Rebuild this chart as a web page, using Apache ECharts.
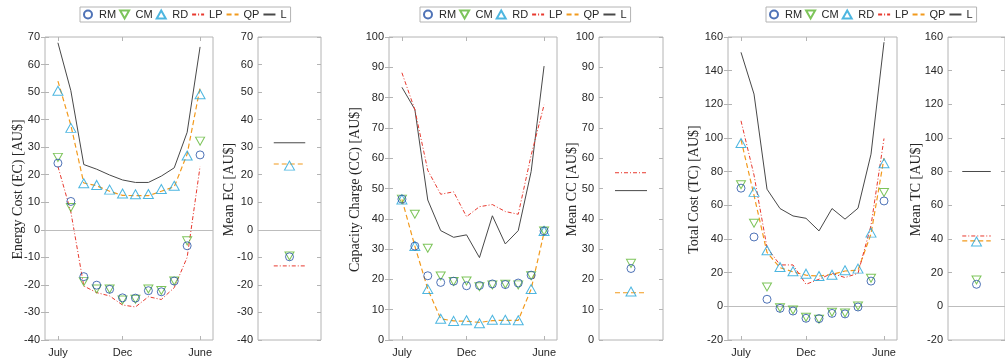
<!DOCTYPE html>
<html>
<head>
<meta charset="utf-8">
<script src="https://cdn.jsdelivr.net/npm/echarts@6/dist/echarts.min.js"></script>
<style>
  html, body { margin: 0; padding: 0; background: #fff; }
  #chart { width: 1005px; height: 360px; }
</style>
</head>
<body>
<div id="chart"></div>
<script>
// Months of the billing year, July to June (plotted at x = 1..12)
const months = ['July', 'Aug', 'Sep', 'Oct', 'Nov', 'Dec', 'Jan', 'Feb', 'Mar', 'Apr', 'May', 'June'];
const monthTicks = [1, 6, 12];

// Energy cost (EC) [AU$]
const ecRM = [24.2, 10.3, -17, -20.1, -21.6, -24.7, -24.8, -22.1, -22.5, -18.6, -5.8, 27.2];
const ecCM = [26.3, 8.1, -18.8, -21.5, -21.5, -25.5, -25.2, -21.5, -22, -18.6, -4, 32.2];
const ecRD = [50.5, 37, 16.9, 16.3, 14.6, 13.2, 12.9, 13, 14.8, 16, 27, 49.2];
const ecLP = [23, 6.5, -20.4, -22.8, -24, -27.3, -28, -24.3, -25.3, -21, -10, 23];
const ecQP = [54, 38, 17, 16, 14, 12.5, 12.4, 12.4, 14, 15.6, 27.5, 51.6];
const ecL  = [67.9, 50.5, 23.7, 22, 19.9, 18.1, 17.2, 17.2, 19.5, 22.5, 35.4, 66.4];
// Means, order RM, CM, RD, LP, QP, L
const ecMeans = [-9.8, -9.5, 23.3, -13.1, 23.9, 31.6];

// Capacity charge (CC) [AU$]
const ccRM = [46.5, 31, 21.2, 19, 19.4, 17.9, 18, 18.5, 18.3, 18.8, 21.4, 36];
const ccCM = [46.5, 41.5, 30.3, 21.1, 19.3, 19.5, 17.6, 18.2, 18.4, 18.2, 21.2, 36];
const ccRD = [46.4, 31, 16.8, 7, 6.3, 6.5, 5.5, 6.7, 6.7, 6.5, 16.8, 36];
const ccLP = [88.2, 76, 56, 48.1, 48.9, 40.7, 44, 44.7, 42.4, 41.5, 61, 77.6];
const ccQP = [46.4, 31, 16.8, 7, 6.3, 6.2, 5.8, 6.4, 6.5, 6.5, 16.8, 35.5];
const ccL  = [83.4, 76.1, 46.2, 36.1, 33.9, 34.7, 27.2, 41, 31.7, 36.1, 55.6, 90.4];
const ccMeans = [23.6, 25.3, 16, 55.2, 15.6, 49.3];

// Total cost (TC) [AU$]
const tcRM = [70.2, 41.2, 4.2, -1.2, -2.8, -7.1, -7.3, -4.2, -4.5, -0.4, 15, 62.6];
const tcCM = [72.2, 49.4, 11.5, -0.8, -2.2, -6.5, -7.7, -3.5, -4, 0.2, 16.7, 67.6];
const tcRD = [97, 68, 33.3, 23.4, 20.8, 19.4, 18, 18.8, 21.4, 22.4, 43.8, 85];
const tcLP = [110.2, 78, 34.9, 24.6, 24.6, 13.1, 16.1, 19.6, 17.1, 19.6, 48, 99.7];
const tcQP = [99, 66, 32, 23, 20.5, 18.5, 18, 19, 21, 21.5, 43, 88];
const tcL  = [150.9, 126.1, 69.6, 58.1, 53.7, 52.3, 44.8, 58.1, 51.8, 58.3, 90.4, 156.9];
const tcMeans = [13.1, 15.7, 38.5, 41.8, 38.9, 80.1];

// Y-axis ranges and titles
const ecRange = [-40, 70, 10];
const ccRange = [0, 100, 10];
const tcRange = [-20, 160, 20];
const ecTitles = ['Energy Cost (EC) [AU$]', 'Mean EC [AU$]'];
const ccTitles = ['Capacity Charge (CC) [AU$]', 'Mean CC [AU$]'];
const tcTitles = ['Total Cost (TC) [AU$]', 'Mean TC [AU$]'];

const seriesNames = ['RM', 'CM', 'RD', 'LP', 'QP', 'L'];

// ---- styling ----
const SANS = '"Liberation Sans", Arial, Helvetica, sans-serif';
const SERIF = '"Liberation Serif", "Times New Roman", serif';
const BOX = '#b4b4b4';
const TXT = '#262626';
const CLEAR = 'rgba(255,255,255,0)';
const COL = { RM: '#2350a5', CM: '#5cb531', RD: '#20a4d8', LP: '#e8392e', QP: '#f29a1d', L: '#484848' };
const TRI_UP = 'path://M0,-4 L4.5,4 L-4.5,4 Z';
const TRI_DOWN = 'path://M-4.5,-4 L4.5,-4 L0,4 Z';
const MARK = {
  RM: { symbol: 'circle', size: 8 },
  CM: { symbol: TRI_DOWN, size: [9, 8] },
  RD: { symbol: TRI_UP, size: [10, 9] }
};
const LINE = {
  LP: { type: [4, 2, 1, 2], width: 1 },
  QP: { type: [5, 3], width: 1.2 },
  L: { type: 'solid', width: 1 }
};

const TOP = 37, HEIGHT = 303;
const panelDefs = [
  { data: [ecRM, ecCM, ecRD, ecLP, ecQP, ecL], means: ecMeans, range: ecRange, titles: ecTitles,
    main: 45, mainW: 168, mean: 258, meanW: 63, titleX: [18, 229], legendX: 80, zero: true },
  { data: [ccRM, ccCM, ccRD, ccLP, ccQP, ccL], means: ccMeans, range: ccRange, titles: ccTitles,
    main: 389, mainW: 168, mean: 599, meanW: 64, titleX: [355, 572], legendX: 420, zero: false },
  { data: [tcRM, tcCM, tcRD, tcLP, tcQP, tcL], means: tcMeans, range: tcRange, titles: tcTitles,
    main: 728, mainW: 169, mean: 948, meanW: 63, titleX: [694, 916], legendX: 766, zero: true }
];

const grid = [], xAxis = [], yAxis = [], series = [], legend = [], graphic = [];

function yAxes(gi, range, labels) {
  const base = {
    gridIndex: gi, type: 'value', min: range[0], max: range[1], interval: range[2],
    axisLine: { show: false }, splitLine: { show: false },
    axisTick: { show: true, inside: true, length: 4, lineStyle: { color: BOX } }
  };
  yAxis.push(Object.assign({}, base, {
    position: 'left',
    axisLabel: { show: labels, margin: 5, color: TXT, fontSize: 11, fontFamily: SANS }
  }));
  yAxis.push(Object.assign({}, base, { position: 'right', axisLabel: { show: false } }));
  return yAxis.length - 2;
}

function markSeries(name, xi, yi, pts, z) {
  const m = MARK[name];
  return {
    name, type: 'scatter', xAxisIndex: xi, yAxisIndex: yi, z,
    symbol: m.symbol, symbolSize: m.size, silent: true,
    itemStyle: { color: CLEAR, borderColor: COL[name], borderWidth: 1 },
    data: pts
  };
}
function lineSeries(name, xi, yi, pts, z, zero) {
  const s = {
    name, type: 'line', xAxisIndex: xi, yAxisIndex: yi, z,
    symbol: 'none', silent: true,
    lineStyle: { color: COL[name], width: LINE[name].width, type: LINE[name].type },
    itemStyle: { color: COL[name] },
    data: pts
  };
  if (zero) {
    s.markLine = {
      silent: true, symbol: 'none', label: { show: false }, animation: false,
      lineStyle: { color: '#bdbdbd', width: 1, type: 'solid' },
      data: [{ yAxis: 0 }]
    };
  }
  return s;
}

// Legend entries: line series show only their stroke, no point marker
const legendData = seriesNames.map((n) => LINE[n]
  ? { name: n, itemStyle: { color: CLEAR, borderColor: CLEAR, borderWidth: 0 } }
  : { name: n });

panelDefs.forEach((p) => {
  // main monthly panel
  const gMain = grid.length;
  grid.push({ left: p.main, top: TOP, width: p.mainW, height: HEIGHT, show: true,
    borderColor: BOX, borderWidth: 1, backgroundColor: '#fff', containLabel: false });
  const xb = xAxis.length;
  xAxis.push({
    gridIndex: gMain, type: 'value', min: 0, max: 13, position: 'bottom',
    axisLine: { show: false, onZero: false }, splitLine: { show: false },
    axisTick: { show: true, inside: true, length: 4, customValues: monthTicks, lineStyle: { color: BOX } },
    axisLabel: { show: true, customValues: monthTicks, margin: 7, color: TXT, fontSize: 11, fontFamily: SANS,
      formatter: (v) => months[Math.round(v) - 1] }
  });
  xAxis.push({
    gridIndex: gMain, type: 'value', min: 0, max: 13, position: 'top',
    axisLine: { show: false, onZero: false }, splitLine: { show: false },
    axisTick: { show: true, inside: true, length: 4, customValues: monthTicks, lineStyle: { color: BOX } },
    axisLabel: { show: false }
  });
  const yi = yAxes(gMain, p.range, true);
  const pts = (arr) => arr.map((v, i) => [i + 1, v]);
  series.push(lineSeries('L', xb, yi, pts(p.data[5]), 2, p.zero));
  series.push(lineSeries('QP', xb, yi, pts(p.data[4]), 3, false));
  series.push(lineSeries('LP', xb, yi, pts(p.data[3]), 4, false));
  series.push(markSeries('RD', xb, yi, pts(p.data[2]), 5));
  series.push(markSeries('CM', xb, yi, pts(p.data[1]), 6));
  series.push(markSeries('RM', xb, yi, pts(p.data[0]), 7));

  // mean panel
  const gMean = grid.length;
  grid.push({ left: p.mean, top: TOP, width: p.meanW, height: HEIGHT, show: true,
    borderColor: BOX, borderWidth: 1, backgroundColor: '#fff', containLabel: false });
  const xm = xAxis.length;
  xAxis.push({
    gridIndex: gMean, type: 'value', min: 0, max: 2,
    axisLine: { show: false, onZero: false }, splitLine: { show: false },
    axisTick: { show: false }, axisLabel: { show: false }
  });
  const ym = yAxes(gMean, p.range, true);
  const seg = (v) => [[0.5, v], [1.5, v]];
  series.push(lineSeries('L', xm, ym, seg(p.means[5]), 2, p.zero));
  series.push(lineSeries('QP', xm, ym, seg(p.means[4]), 3, false));
  series.push(lineSeries('LP', xm, ym, seg(p.means[3]), 4, false));
  series.push(markSeries('RD', xm, ym, [[1, p.means[2]]], 5));
  series.push(markSeries('CM', xm, ym, [[1, p.means[1]]], 6));
  series.push(markSeries('RM', xm, ym, [[1, p.means[0]]], 7));

  legend.push({
    left: p.legendX, top: 7, width: 400, orient: 'horizontal',
    data: legendData, selectedMode: false,
    itemWidth: 12, itemHeight: 8, itemGap: 3,
    padding: [2, 4, 2, 3],
    borderColor: BOX, borderWidth: 1, backgroundColor: '#fff',
    textStyle: { color: TXT, fontSize: 11, fontFamily: SANS }
  });

  p.titles.forEach((t, k) => {
    graphic.push({
      type: 'text', x: p.titleX[k], y: TOP + HEIGHT / 2 + 1, rotation: Math.PI / 2, silent: true,
      style: { text: t, fill: TXT, font: '14px ' + SERIF, textAlign: 'center', textVerticalAlign: 'middle' }
    });
  });
});

const chart = echarts.init(document.getElementById('chart'), null, { renderer: 'canvas' });
chart.setOption({
  animation: false,
  backgroundColor: '#fff',
  grid, xAxis, yAxis, series, legend, graphic
});
</script>
</body>
</html>
